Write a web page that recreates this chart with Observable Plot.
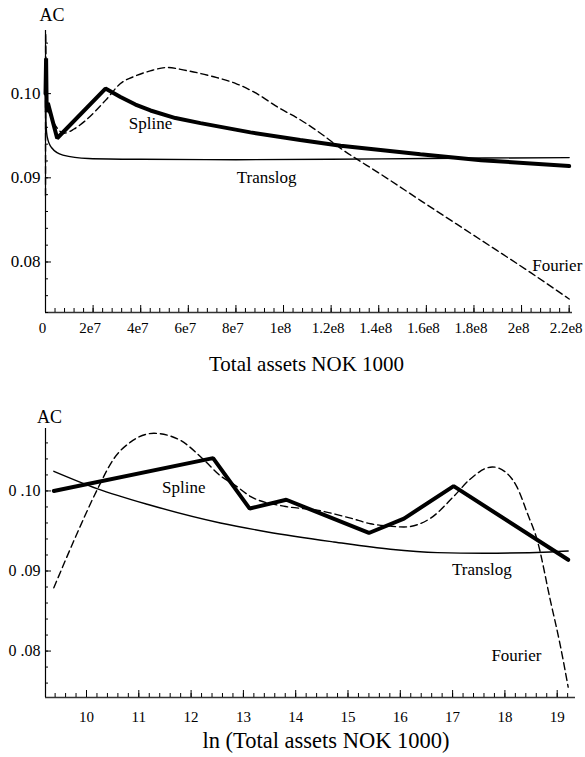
<!DOCTYPE html>
<html><head><meta charset="utf-8">
<script src="https://cdn.jsdelivr.net/npm/d3@7"></script>
<script src="https://cdn.jsdelivr.net/npm/@observablehq/plot@0.6"></script>
<style>body{margin:0;background:#fff} svg{display:block}</style>
</head><body><div id="chart"></div>
<script>
// ---------- Top panel data (x = Total assets NOK 1000) ----------
const topSplineX = [1.2e4, 2.5e5, 5e5, 1e6, 4.9e6, 2.52e7, 3.15e7, 3.78e7, 4.41e7, 5.46e7, 6.51e7, 8.61e7, 1.07e8, 1.24e8, 1.575e8, 1.83e8, 2.2e8];
const topSplineY = [0.1000, 0.1042, 0.0978, 0.0989, 0.0947, 0.1006, 0.0996, 0.0987, 0.0980, 0.0971, 0.0965, 0.0954, 0.0945, 0.0938, 0.0928, 0.0921, 0.0914];
const topTranslogX = [1.2e4, 2.9e4, 7e4, 2.85e5, 7e5, 2.5e6, 7.3e6, 1.8e7, 4e7, 8e7, 1.2e8, 1.6e8, 2.2e8];
const topTranslogY = [0.1025, 0.1003, 0.0983, 0.0960, 0.0949, 0.0936, 0.0927, 0.0923, 0.0922, 0.09215, 0.0922, 0.0923, 0.0924];
const topFourierX = [1.2e4, 2.9e4, 3.7e4, 5.1e4, 8e4, 1.33e5, 2.07e5, 3.7e5, 5.1e5, 9.6e5, 1.8e6, 3.4e6, 5.5e6, 7.7e6, 1.2e7, 1.68e7, 2.52e7, 3.15e7, 3.78e7, 4.4e7, 5.1e7, 6e7, 7.07e7, 8e7, 8.75e7, 9.87e7, 1.07e8, 1.155e8, 1.24e8, 1.41e8, 1.576e8, 1.83e8, 2.04e8, 2.2e8];
const topFourierY = [0.0879, 0.1001, 0.1040, 0.1061, 0.1072, 0.1063, 0.1043, 0.1009, 0.0993, 0.0981, 0.0976, 0.0966, 0.0957, 0.0953, 0.0958, 0.0968, 0.0992, 0.1012, 0.1021, 0.1027, 0.1031, 0.1027, 0.1020, 0.1012, 0.1002, 0.0982, 0.0969, 0.0953, 0.0935, 0.0904, 0.0873, 0.0826, 0.0787, 0.0756];

// ---------- Bottom panel data (x = ln Total assets) ----------
const botSplineX = [9.375, 12.42, 13.12, 13.82, 15.40, 16.07, 17.02, 19.21];
const botSplineY = [0.1000, 0.1041, 0.0978, 0.0989, 0.09475, 0.09655, 0.1006, 0.0914];
const botTranslogX = [9.375, 10.20, 11.16, 12.56, 13.46, 14.73, 15.81, 16.71, 17.6, 18.87, 19.21];
const botTranslogY = [0.10246, 0.1003, 0.09834, 0.0960, 0.09488, 0.09363, 0.09271, 0.0923, 0.09222, 0.09238, 0.0925];
const botFourierX = [9.375, 9.8, 10.20, 10.52, 10.84, 11.29, 11.80, 12.24, 12.56, 12.82, 13.14, 13.77, 14.41, 15.05, 15.43, 15.81, 16.07, 16.58, 17.02, 17.34, 17.76, 18.04, 18.23, 18.43, 18.62, 18.87, 19.05, 19.21];
const botFourierY = [0.0879, 0.0944, 0.1001, 0.1040, 0.1061, 0.1072, 0.1063, 0.1039, 0.1019, 0.1008, 0.0993, 0.0981, 0.0976, 0.0966, 0.0959, 0.0956, 0.0955, 0.0966, 0.0993, 0.1015, 0.1030, 0.1022, 0.1005, 0.0972, 0.0938, 0.0863, 0.0810, 0.0755];

// ---------- Ticks and labels ----------
const topXTicks = [0, 2e7, 4e7, 6e7, 8e7, 1e8, 1.2e8, 1.4e8, 1.6e8, 1.8e8, 2e8, 2.2e8];
const topXTickLabels = ["0", "2e7", "4e7", "6e7", "8e7", "1e8", "1.2e8", "1.4e8", "1.6e8", "1.8e8", "2e8", "2.2e8"];
const botXTicks = [10, 11, 12, 13, 14, 15, 16, 17, 18, 19];
const botXTickLabels = ["10", "11", "12", "13", "14", "15", "16", "17", "18", "19"];
const yTicks = [0.08, 0.09, 0.10];
const topYTickLabels = ["0.08", "0.09", "0.10"];
const botYTickLabels = ["0 .08", "0 .09", "0 .10"];
const seriesNames = ["Spline", "Translog", "Fourier"];
const topLabelX = [4.41e7, 9.29e7, 2.15e8];
const topLabelY = [0.0965, 0.0900, 0.0796];
const botLabelX = [11.86, 17.56, 18.22];
const botLabelY = [0.1004, 0.09015, 0.0794];

const rows = (xs, ys) => xs.map((x, i) => ({x, y: ys[i]}));
const styles = {
  Spline: {stroke: "black", strokeWidth: 4, curve: "linear", strokeLinejoin: "miter"},
  Translog: {stroke: "black", strokeWidth: 1.4, curve: "monotone-x"},
  Fourier: {stroke: "black", strokeWidth: 1.4, strokeDasharray: "7,4", curve: "monotone-x"}
};
const font = "'Liberation Serif', 'Times New Roman', serif";

function panel(o) {
  const innerW = o.width - o.ml - o.mr;
  const innerH = o.height - o.mt - o.mb;
  const xLab = new Map(o.xTicks.map((d, i) => [d, o.xLabels[i]]));
  const yLab = new Map(yTicks.map((d, i) => [d, o.yLabels[i]]));
  const labels = seriesNames.map((s, i) => ({s, x: o.labX[i], y: o.labY[i]}));
  return Plot.plot({
    width: o.width, height: o.height,
    marginLeft: o.ml, marginRight: o.mr, marginTop: o.mt, marginBottom: o.mb,
    style: {fontFamily: font, fontSize: "15px", background: "white", color: "black", overflow: "visible"},
    x: {domain: o.xDomain},
    y: {domain: o.yDomain},
    marks: [
      Plot.ruleY([o.yDomain[0]], {stroke: "#333", strokeWidth: 1.6}),
      Plot.ruleX([o.xDomain[0]], {stroke: "black", strokeWidth: 1.2}),
      Plot.ruleX(o.xMinor, {stroke: "black", strokeWidth: 1, insetTop: innerH - 4}),
      Plot.ruleX(o.xTicks, {stroke: "black", strokeWidth: 1, insetTop: innerH - 7}),
      Plot.ruleY(o.yMinor, {stroke: "black", strokeWidth: 1, insetRight: innerW - 3}),
      Plot.ruleY(yTicks, {stroke: "black", strokeWidth: 1, insetRight: innerW - 6}),
      Plot.axisX(o.xTicks, {anchor: "bottom", tickSize: 0, tickPadding: o.xPad, fontSize: o.xFont, dx: o.xDx, tickFormat: d => xLab.get(d), label: null}),
      Plot.axisY(yTicks, {anchor: "left", tickSize: 0, tickPadding: 5, fontSize: o.yFont, tickFormat: d => yLab.get(d), label: null}),
      Plot.line(rows(o.translog[0], o.translog[1]), {x: "x", y: "y", ...styles.Translog}),
      Plot.line(rows(o.fourier[0], o.fourier[1]), {x: "x", y: "y", ...styles.Fourier}),
      Plot.line(rows(o.spline[0], o.spline[1]), {x: "x", y: "y", ...styles.Spline}),
      Plot.text(labels, {x: "x", y: "y", text: "s", fontSize: 17, textAnchor: "middle", lineAnchor: "middle"}),
      Plot.text(["AC"], {frameAnchor: "top-left", dx: o.acDx, dy: o.acDy, fontSize: 18, textAnchor: "middle", lineAnchor: "middle"}),
      Plot.text([o.title], {frameAnchor: "bottom", dx: o.tDx, dy: o.tDy, fontSize: o.tFont, textAnchor: "middle", lineAnchor: "middle"})
    ]
  });
}

const minorTop = d3.range(0, 2.2e8 + 1, 4e6);
const minorBot = d3.range(9.4, 19.31, 0.2);

const topPlot = panel({
  width: 585, height: 380, ml: 45, mr: 13, mt: 30, mb: 68,
  xDomain: [0, 2.214e8], yDomain: [0.074, 0.1075],
  xTicks: topXTicks, xLabels: topXTickLabels, xMinor: minorTop,
  yLabels: topYTickLabels, yMinor: d3.range(0.074, 0.1075, 0.002),
  xPad: 10, xFont: 15, xDx: -3, yFont: 17,
  spline: [topSplineX, topSplineY], translog: [topTranslogX, topTranslogY], fourier: [topFourierX, topFourierY],
  labX: topLabelX, labY: topLabelY,
  acDx: 6.5, acDy: -15.5,
  title: "Total assets NOK 1000", tDx: -2.5, tDy: 51.5, tFont: 21
});
const botPlot = panel({
  width: 585, height: 377, ml: 45, mr: 10, mt: 48, mb: 60,
  xDomain: [9.216, 19.35], yDomain: [0.0742, 0.1078],
  xTicks: botXTicks, xLabels: botXTickLabels, xMinor: minorBot,
  yLabels: botYTickLabels, yMinor: d3.range(0.076, 0.1078, 0.002),
  xPad: 14, xFont: 15, xDx: 0, yFont: 16,
  spline: [botSplineX, botSplineY], translog: [botTranslogX, botTranslogY], fourier: [botFourierX, botFourierY],
  labX: botLabelX, labY: botLabelY,
  acDx: 4, acDy: -10.8,
  title: "ln (Total assets NOK 1000)", tDx: 15.5, tDy: 43, tFont: 22.5
});
document.getElementById("chart").append(topPlot, botPlot);
</script>
</body></html>
